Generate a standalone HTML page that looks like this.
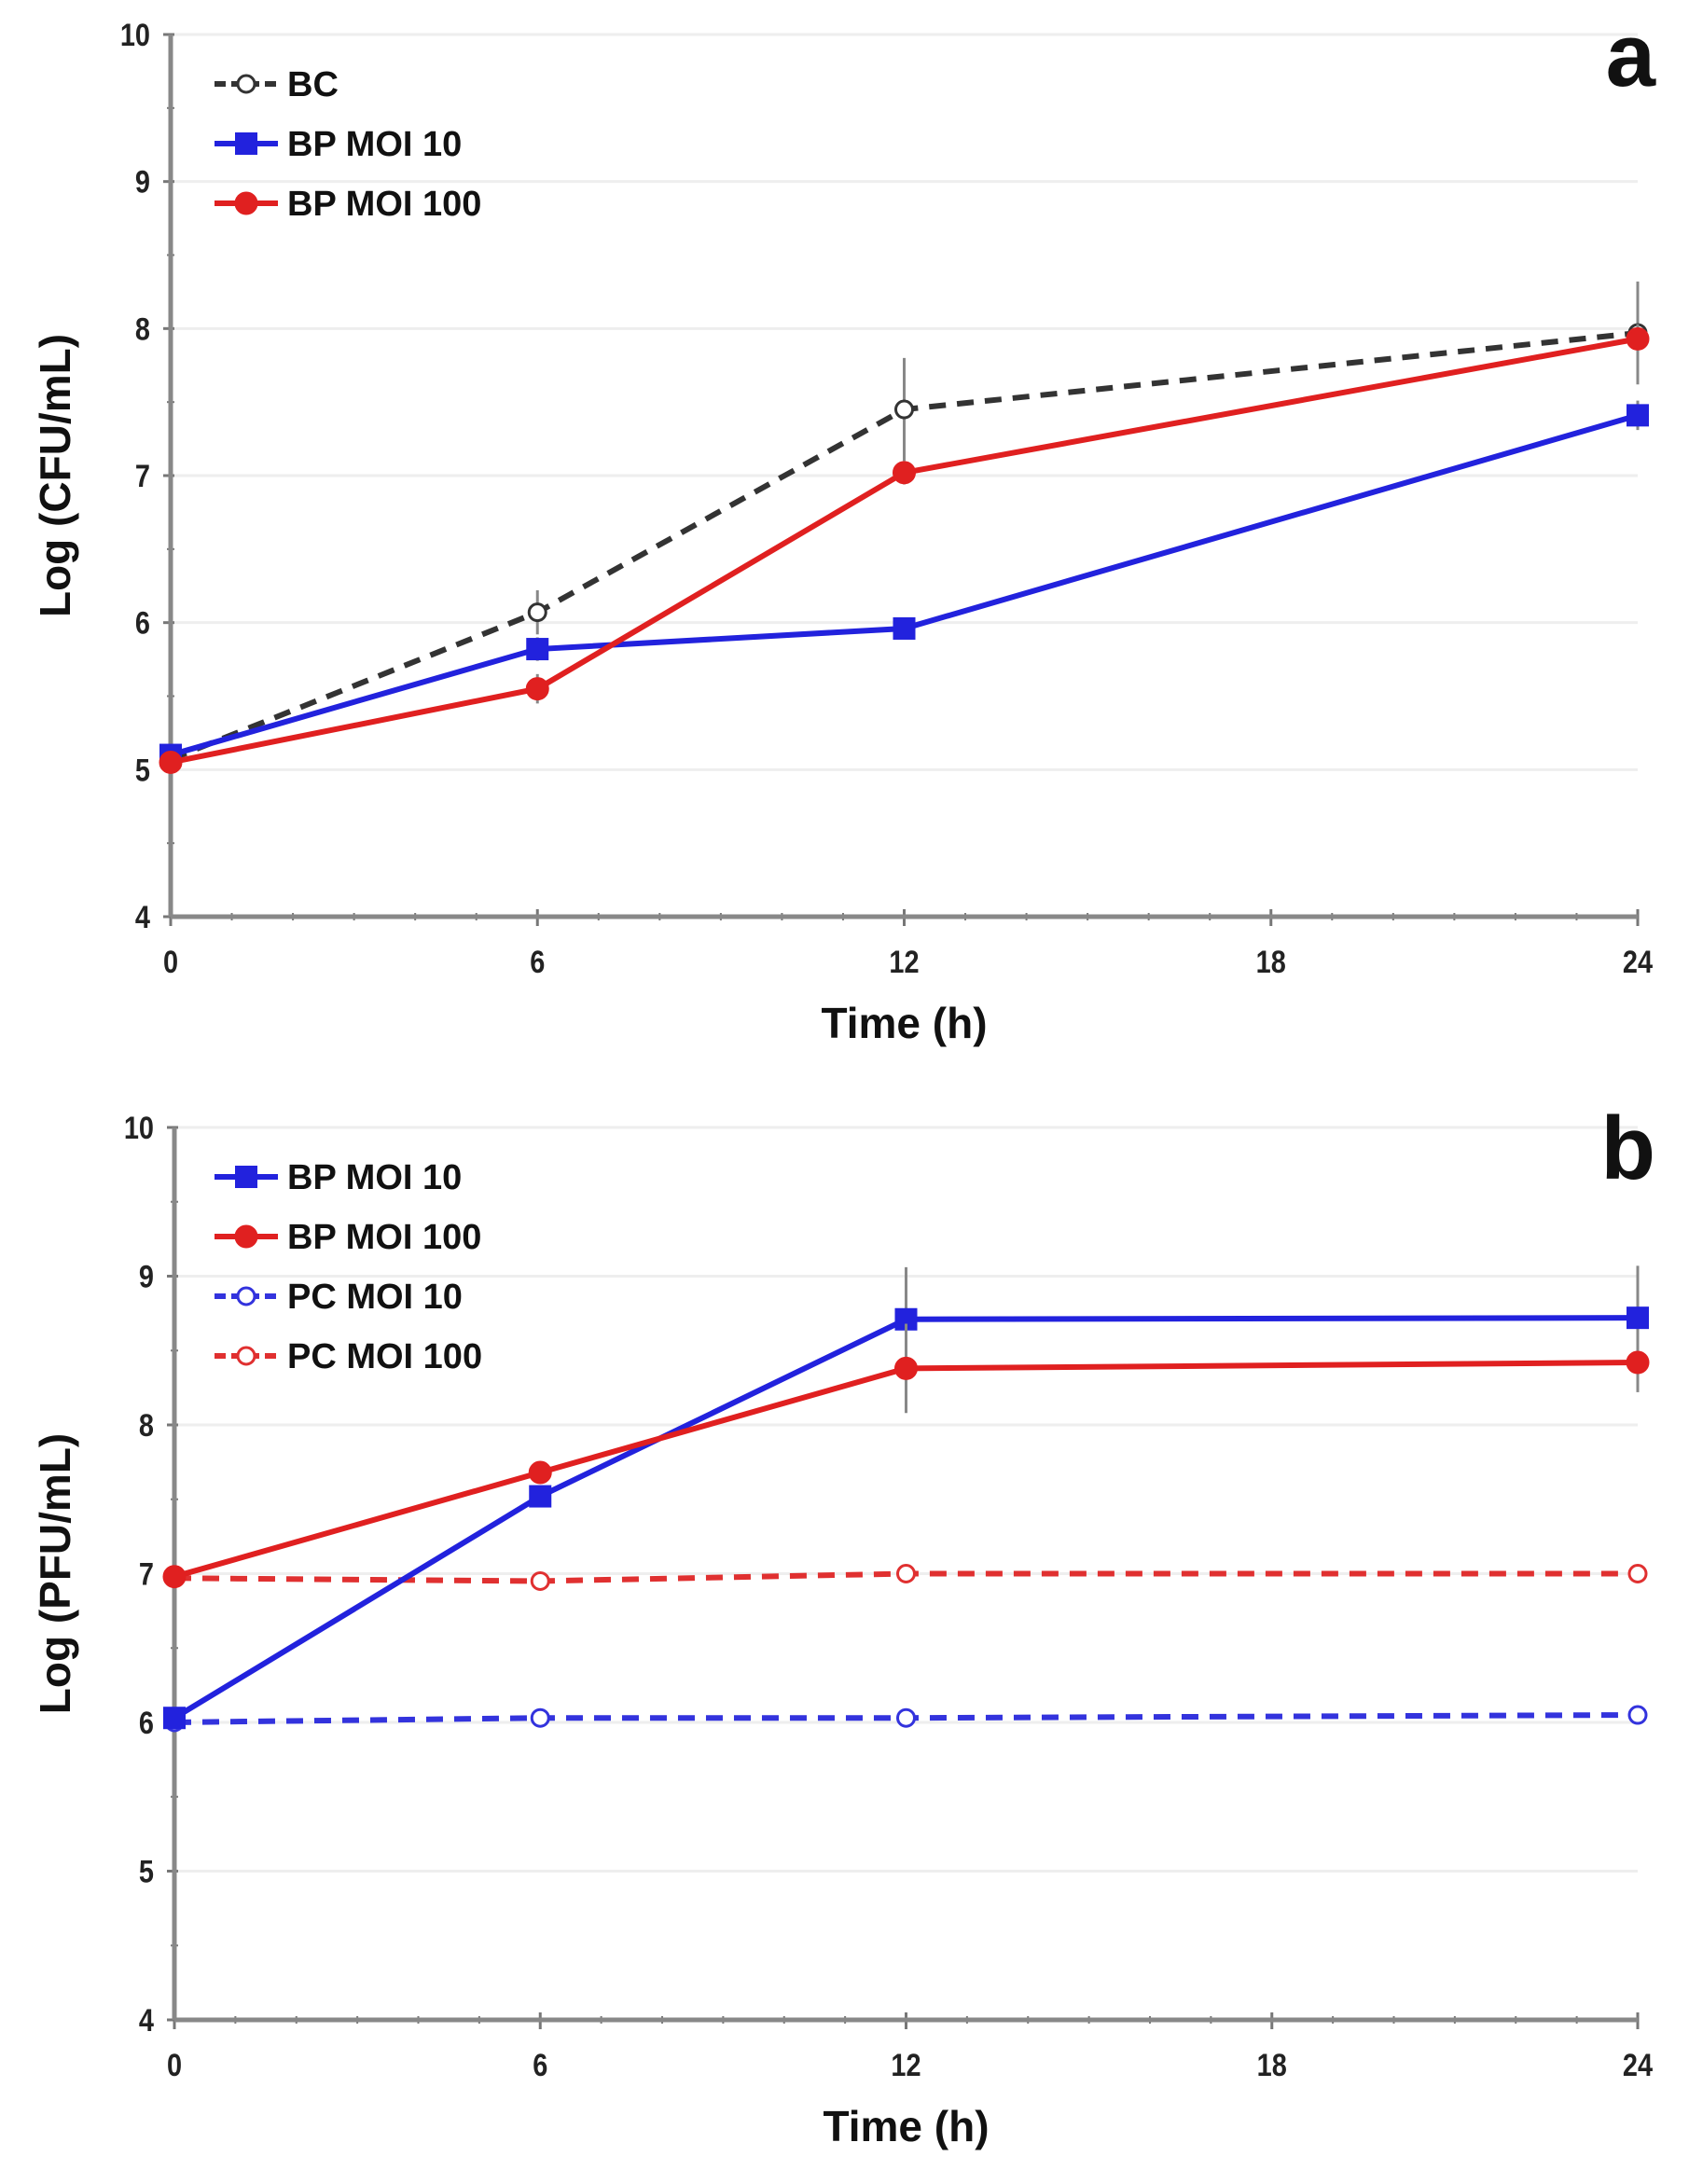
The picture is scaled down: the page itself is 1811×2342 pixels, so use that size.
<!DOCTYPE html>
<html><head><meta charset="utf-8"><style>
body{margin:0;background:#fff}
svg{display:block;font-family:"Liberation Sans",sans-serif}
</style></head><body>
<svg id="c" width="1811" height="2342"></svg>
<script>
const hours=[0,6,12,24];
const xTicks=[0,6,12,18,24];
const yTicks=[4,5,6,7,8,9,10];
const aBC=[5.07,6.07,7.45,7.97];
const aBCerr=[0.05,0.15,0.35,0.35];
const aBP10=[5.1,5.82,5.96,7.41];
const aBP10err=[0.05,0.08,0.05,0.1];
const aBP100=[5.05,5.55,7.02,7.93];
const aBP100err=[0.05,0.1,0.08,0.1];
const bBP10=[6.03,7.52,8.71,8.72];
const bBP10err=[0.05,0.05,0.35,0.35];
const bBP100=[6.98,7.68,8.38,8.42];
const bBP100err=[0.05,0.05,0.3,0.2];
const bPC10=[6.0,6.03,6.03,6.05];
const bPC100=[6.97,6.95,7.0,7.0];
const NS='http://www.w3.org/2000/svg';
const svg=document.getElementById('c');
function mk(t,a,p){const e=document.createElementNS(NS,t);for(const k in a)e.setAttribute(k,a[k]);(p||svg).appendChild(e);return e;}
function panel(id,x0,x1,yTop,yBot,yTitle,letter,series,legend){
 const g=mk('g',{});
 
 
 const sx=v=>x0+(x1-x0)*v/24, sy=v=>yBot-(yBot-yTop)*(v-4)/6;
 yTicks.forEach(t=>{if(t>4){const l=mk('line',{x1:x0,x2:x1,y1:sy(t),y2:sy(t),stroke:'#eee','stroke-width':3},g);}
  mk('line',{x1:x0-8,x2:x0+4,y1:sy(t),y2:sy(t),stroke:'#777','stroke-width':3},g);
  if(t<10)mk('line',{x1:x0-4,x2:x0+4,y1:sy(t+0.5),y2:sy(t+0.5),stroke:'#777','stroke-width':2},g);
  const tx=mk('text',{x:x0-22,y:sy(t)+12,'text-anchor':'end','font-size':34,'font-weight':'bold',fill:'#222',transform:`translate(${(x0-22)*0.15},0) scale(0.85,1)`},g);tx.textContent=t;
  });
 for(let h=0;h<=24;h++){mk('line',{x1:sx(h),x2:sx(h),y1:yBot-(h%6?4:8),y2:yBot+(h%6?4:10),stroke:'#777','stroke-width':h%6?2:3},g);}
 xTicks.forEach(t=>{const tx=mk('text',{x:sx(t),y:yBot+60,'text-anchor':'middle','font-size':34,'font-weight':'bold',fill:'#222',transform:`translate(${sx(t)*0.15},0) scale(0.85,1)`},g);tx.textContent=t;
  });
 const ya=mk('line',{x1:x0,x2:x0,y1:yTop,y2:yBot,stroke:'#888','stroke-width':5},g);
 const xa=mk('line',{x1:x0,x2:x1,y1:yBot,y2:yBot,stroke:'#888','stroke-width':5},g);
 const xt=mk('text',{x:(x0+x1)/2,y:yBot+130,'text-anchor':'middle','font-size':46,'font-weight':'bold',fill:'#111'},g);xt.textContent='Time (h)';
 
 const cy=(yTop+yBot)/2;
 const yt=mk('text',{x:0,y:0,transform:`translate(75,${cy}) rotate(-90)`,'text-anchor':'middle','font-size':46,'font-weight':'bold',fill:'#111'},g);yt.textContent=yTitle;
 
 const lt=mk('text',{x:1775,y:yTop+55,'text-anchor':'end','font-size':96,'font-weight':'bold',fill:'#111'},g);lt.textContent=letter;
 
 series.forEach(s=>{
  const sg=mk('g',{},g);
  
  
  if(s.err)s.vals.forEach((v,i)=>{mk('line',{x1:sx(hours[i]),x2:sx(hours[i]),y1:sy(v-s.err[i]),y2:sy(v+s.err[i]),stroke:'#888','stroke-width':3},sg);});
  mk('polyline',{points:s.vals.map((v,i)=>sx(hours[i])+','+sy(v)).join(' '),fill:'none',stroke:s.color,'stroke-width':6,'stroke-dasharray':s.dash?'18 12':'none'},sg);
  s.vals.forEach((v,i)=>{let m;
   if(s.shape=='sq')m=mk('rect',{x:sx(hours[i])-12,y:sy(v)-12,width:24,height:24,fill:s.color},sg);
   else m=mk('circle',{cx:sx(hours[i]),cy:sy(v),r:s.open?9:11,fill:s.open?'#fff':s.color,stroke:s.color,'stroke-width':3},sg);
   });
 });
 legend.forEach((s,i)=>{const ly=yTop+53+i*64;
  const lg=mk('g',{},g);
  mk('line',{x1:230,x2:298,y1:ly,y2:ly,stroke:s.color,'stroke-width':6,'stroke-dasharray':s.dash?'12 6':'none'},lg);
  if(s.shape=='sq')mk('rect',{x:252,y:ly-12,width:24,height:24,fill:s.color},lg);
  else mk('circle',{cx:264,cy:ly,r:s.open?9:11,fill:s.open?'#fff':s.color,stroke:s.color,'stroke-width':3},lg);
  const t=mk('text',{x:308,y:ly+13,'font-size':38,'font-weight':'bold',fill:'#111'},lg);t.textContent=s.label;});
}
const A=[{name:'bc',label:'BC',vals:aBC,err:aBCerr,color:'#333',dash:1,open:1},
 {name:'bp-moi10',label:'BP MOI 10',vals:aBP10,err:aBP10err,color:'#2222dd',shape:'sq'},
 {name:'bp-moi100',label:'BP MOI 100',vals:aBP100,err:aBP100err,color:'#e02020'}];
panel('a',183,1756,37,983,'Log (CFU/mL)','a',A,A);
const B=[{name:'pc-moi10',label:'PC MOI 10',vals:bPC10,color:'#3333dd',dash:1,open:1},
 {name:'pc-moi100',label:'PC MOI 100',vals:bPC100,color:'#e03030',dash:1,open:1},
 {name:'bp-moi10',label:'BP MOI 10',vals:bBP10,err:bBP10err,color:'#2222dd',shape:'sq'},
 {name:'bp-moi100',label:'BP MOI 100',vals:bBP100,err:bBP100err,color:'#e02020'}];
panel('b',187,1756,1209,2166,'Log (PFU/mL)','b',B,[B[2],B[3],B[0],B[1]]);
</script>
</body></html>
